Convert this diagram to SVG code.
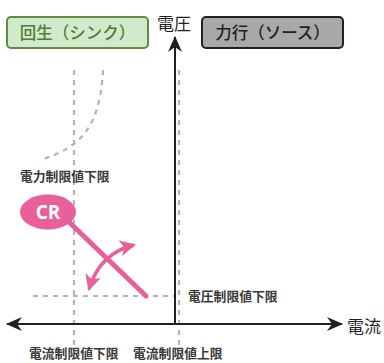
<svg xmlns="http://www.w3.org/2000/svg" width="384" height="363" viewBox="0 0 384 363">
<style>
.jp{font-family:"Noto Sans CJK JP","Noto Sans",sans-serif}
.lbl{font-size:12.8px;font-weight:bold;fill:#3a3a3a}
.ax{font-size:17px;fill:#231f20}
.dash{fill:none;stroke:#b4b4b4;stroke-width:2.2;stroke-dasharray:5,5}
</style>
<defs>
<marker id="ah" markerWidth="16" markerHeight="14" refX="15" refY="7" orient="auto" markerUnits="userSpaceOnUse" viewBox="0 0 16 14">
<path d="M0,0 L16,7 L0,14 L5,7 Z" fill="#231f20"/>
</marker>
<marker id="ph" markerWidth="16" markerHeight="16" refX="14" refY="8" orient="auto-start-reverse" markerUnits="userSpaceOnUse" viewBox="0 0 16 16">
<path d="M0,0 L16,8 L0,16 L4,8 Z" fill="#e8609a"/>
</marker>
</defs>
<g id="guides">
<line class="dash" x1="74" y1="70" x2="74" y2="345"/>
<line class="dash" x1="179" y1="70" x2="179" y2="345"/>
<line class="dash" x1="33" y1="296" x2="175" y2="296"/>
<path class="dash" d="M103,70 C100,128 80,148 40,160"/>
</g>
<g id="connectors">
<line x1="175" y1="324" x2="175" y2="37" stroke="#231f20" stroke-width="2" marker-end="url(#ah)"/>
<line x1="175" y1="324" x2="342" y2="324" stroke="#231f20" stroke-width="2" marker-end="url(#ah)"/>
<line x1="175" y1="324" x2="7" y2="324" stroke="#231f20" stroke-width="2" marker-end="url(#ah)"/>
<line x1="70" y1="223" x2="146" y2="296" stroke="#e8609a" stroke-width="5" stroke-linecap="round"/>
<path d="M89,289 Q100,253 134,245" fill="none" stroke="#e8609a" stroke-width="3.5" marker-start="url(#ph)" marker-end="url(#ph)"/>
</g>
<g id="sink">
<rect x="7" y="17" width="141" height="31" rx="4" fill="#d1e9cd" stroke="#5f8d3d" stroke-width="2"/>
<text class="jp" x="77.5" y="39" font-size="16.5" font-weight="500" fill="#4f7f2f" text-anchor="middle">回生（シンク）</text>
</g>
<g id="source">
<rect x="202" y="17" width="141" height="31" rx="4" fill="#a7a9a8" stroke="#231f20" stroke-width="2"/>
<text class="jp" x="272.5" y="39" font-size="16.5" font-weight="500" fill="#231f20" text-anchor="middle">力行（ソース）</text>
</g>
<g id="cr">
<ellipse cx="48" cy="212" rx="28" ry="17.5" fill="#e8609a"/>
<text x="48" y="219" font-family="'Open Sans','Noto Sans',sans-serif" font-size="19" font-weight="bold" fill="#ffffff" text-anchor="middle">CR</text>
</g>
<g id="labels">
<text class="jp ax" x="157" y="30">電圧</text>
<text class="jp ax" x="347" y="333">電流</text>
<text class="jp lbl" x="20" y="181">電力制限値下限</text>
<text class="jp lbl" x="188" y="301">電圧制限値下限</text>
<text class="jp lbl" x="29" y="358">電流制限値下限</text>
<text class="jp lbl" x="133" y="358">電流制限値上限</text>
</g>
</svg>
